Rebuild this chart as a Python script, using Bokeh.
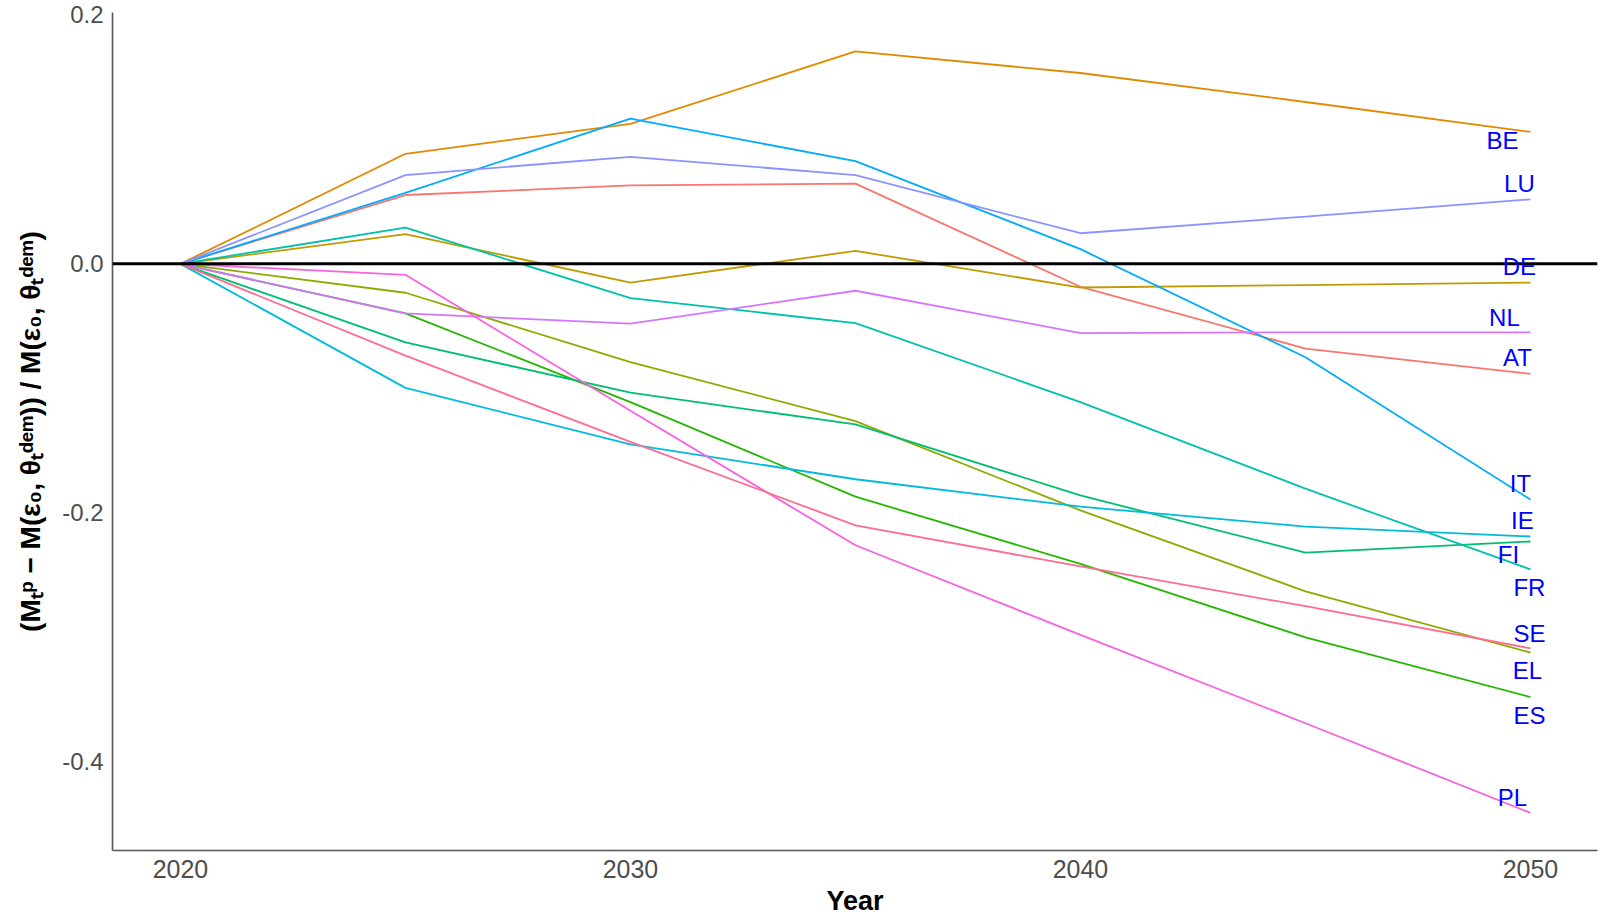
from bokeh.plotting import figure
from bokeh.models import Span, LabelSet, ColumnDataSource, FixedTicker, PrintfTickFormatter, Range1d
from bokeh.core.properties import value
from bokeh.embed import file_html
from bokeh.resources import INLINE

years = [2020, 2025, 2030, 2035, 2040, 2045, 2050]
countries = ["AT", "BE", "DE", "EL", "ES", "FI", "FR", "IE", "IT", "LU", "NL", "PL", "SE"]

AT = [0, 0.0553, 0.063, 0.0644, -0.0184, -0.068, -0.0884]
BE = [0, 0.0884, 0.1124, 0.1707, 0.1533, 0.130, 0.106]
DE = [0, 0.0238, -0.015, 0.0104, -0.019, -0.017, -0.015]
EL = [0, -0.0232, -0.079, -0.1263, -0.198, -0.263, -0.3122]
ES = [0, -0.0398, -0.111, -0.187, -0.241, -0.300, -0.348]
FI = [0, -0.063, -0.1035, -0.129, -0.186, -0.232, -0.223]
FR = [0, 0.0291, -0.0275, -0.0476, -0.111, -0.1806, -0.2454]
IE = [0, -0.0996, -0.145, -0.173, -0.195, -0.211, -0.219]
IT = [0, 0.057, 0.1167, 0.0825, 0.0118, -0.075, -0.1893]
LU = [0, 0.0713, 0.086, 0.0713, 0.0246, 0.038, 0.0518]
NL = [0, -0.0398, -0.048, -0.0216, -0.0556, -0.055, -0.055]
PL = [0, -0.0088, -0.118, -0.226, -0.298, -0.369, -0.441]
SE = [0, -0.0737, -0.143, -0.210, -0.243, -0.275, -0.3088]

series = {"AT": AT, "BE": BE, "DE": DE, "EL": EL, "ES": ES, "FI": FI, "FR": FR,
          "IE": IE, "IT": IT, "LU": LU, "NL": NL, "PL": PL, "SE": SE}

x_ticks = [2020, 2030, 2040, 2050]
y_ticks = [-0.4, -0.2, 0.0, 0.2]

colors = ["#F8766D", "#E18A00", "#BE9C00", "#8CAB00", "#24B700", "#00BE70", "#00C1AB",
          "#00BBDA", "#00ACFC", "#8B93FF", "#D575FE", "#F962DD", "#FF6C91"]

# label pixel offsets (dx right, dy up) relative to each series' 2050 point
label_dx = {"AT": -13, "BE": -28, "DE": -11, "EL": -3, "ES": -1, "FI": -22, "FR": -1,
            "IE": -8, "IT": -10, "LU": -11, "NL": -26, "PL": -18, "SE": -1}
label_dy = {"AT": 16, "BE": -9, "DE": 16, "EL": -18, "ES": -18, "FI": -13, "FR": -18,
            "IE": 16, "IT": 16, "LU": 16, "NL": 15, "PL": 15, "SE": 15}

FONT = "Liberation Sans"

p = figure(width=1599, height=918, output_backend="svg", toolbar_location=None,
           x_range=Range1d(2018.49, 2051.49), y_range=Range1d(-0.4712, 0.2019),
           min_border_left=112, min_border_right=2, min_border_top=12, min_border_bottom=67)
p.outline_line_color = None
p.grid.visible = False
p.background_fill_color = "white"

for c, col in zip(countries, colors):
    p.line(years, series[c], line_color=col, line_width=1.8)

p.add_layout(Span(location=0, dimension="width", line_color="black", line_width=3))

src = ColumnDataSource(dict(
    x=[years[-1]] * len(countries),
    y=[series[c][-1] for c in countries],
    text=countries,
    dx=[label_dx[c] for c in countries],
    dy=[label_dy[c] for c in countries],
))
labels = LabelSet(x="x", y="y", text="text", x_offset="dx", y_offset="dy", source=src,
                  text_color="#0000FF", text_font=value(FONT), text_font_size="24px",
                  text_align="center", text_baseline="middle")
p.add_layout(labels)

for ax in (p.xaxis[0], p.yaxis[0]):
    ax.axis_line_color = "#555555"
    ax.axis_line_width = 1.6
    ax.major_tick_line_color = None
    ax.minor_tick_line_color = None
    ax.major_tick_out = 0
    ax.major_tick_in = 0
    ax.minor_tick_out = 0
    ax.minor_tick_in = 0
    ax.major_label_text_font = FONT
    ax.major_label_text_color = "#4D4D4D"
    ax.axis_label_text_font = FONT
    ax.axis_label_text_font_style = "bold"
    ax.axis_label_text_color = "black"

p.xaxis.major_label_text_font_size = "25px"
p.yaxis.major_label_text_font_size = "24px"
p.xaxis.ticker = FixedTicker(ticks=x_ticks)
p.yaxis.ticker = FixedTicker(ticks=y_ticks)
p.yaxis.formatter = PrintfTickFormatter(format="%.1f")
p.xaxis.major_label_standoff = 9
p.yaxis.major_label_standoff = 9
p.xaxis.axis_label = "Year"
p.xaxis.axis_label_text_font_size = "27px"
p.xaxis.axis_label_standoff = 5
p.yaxis.axis_label = "(M\u209c\u1d56 \u2212 M(\u03b5\u2080, \u03b8\u209c\u1d48\u1d49\u1d50)) / M(\u03b5\u2080, \u03b8\u209c\u1d48\u1d49\u1d50)"
p.yaxis.axis_label_text_font_size = "28px"
p.yaxis.axis_label_standoff = 13

open("out.html", "w").write(file_html(p, INLINE))
